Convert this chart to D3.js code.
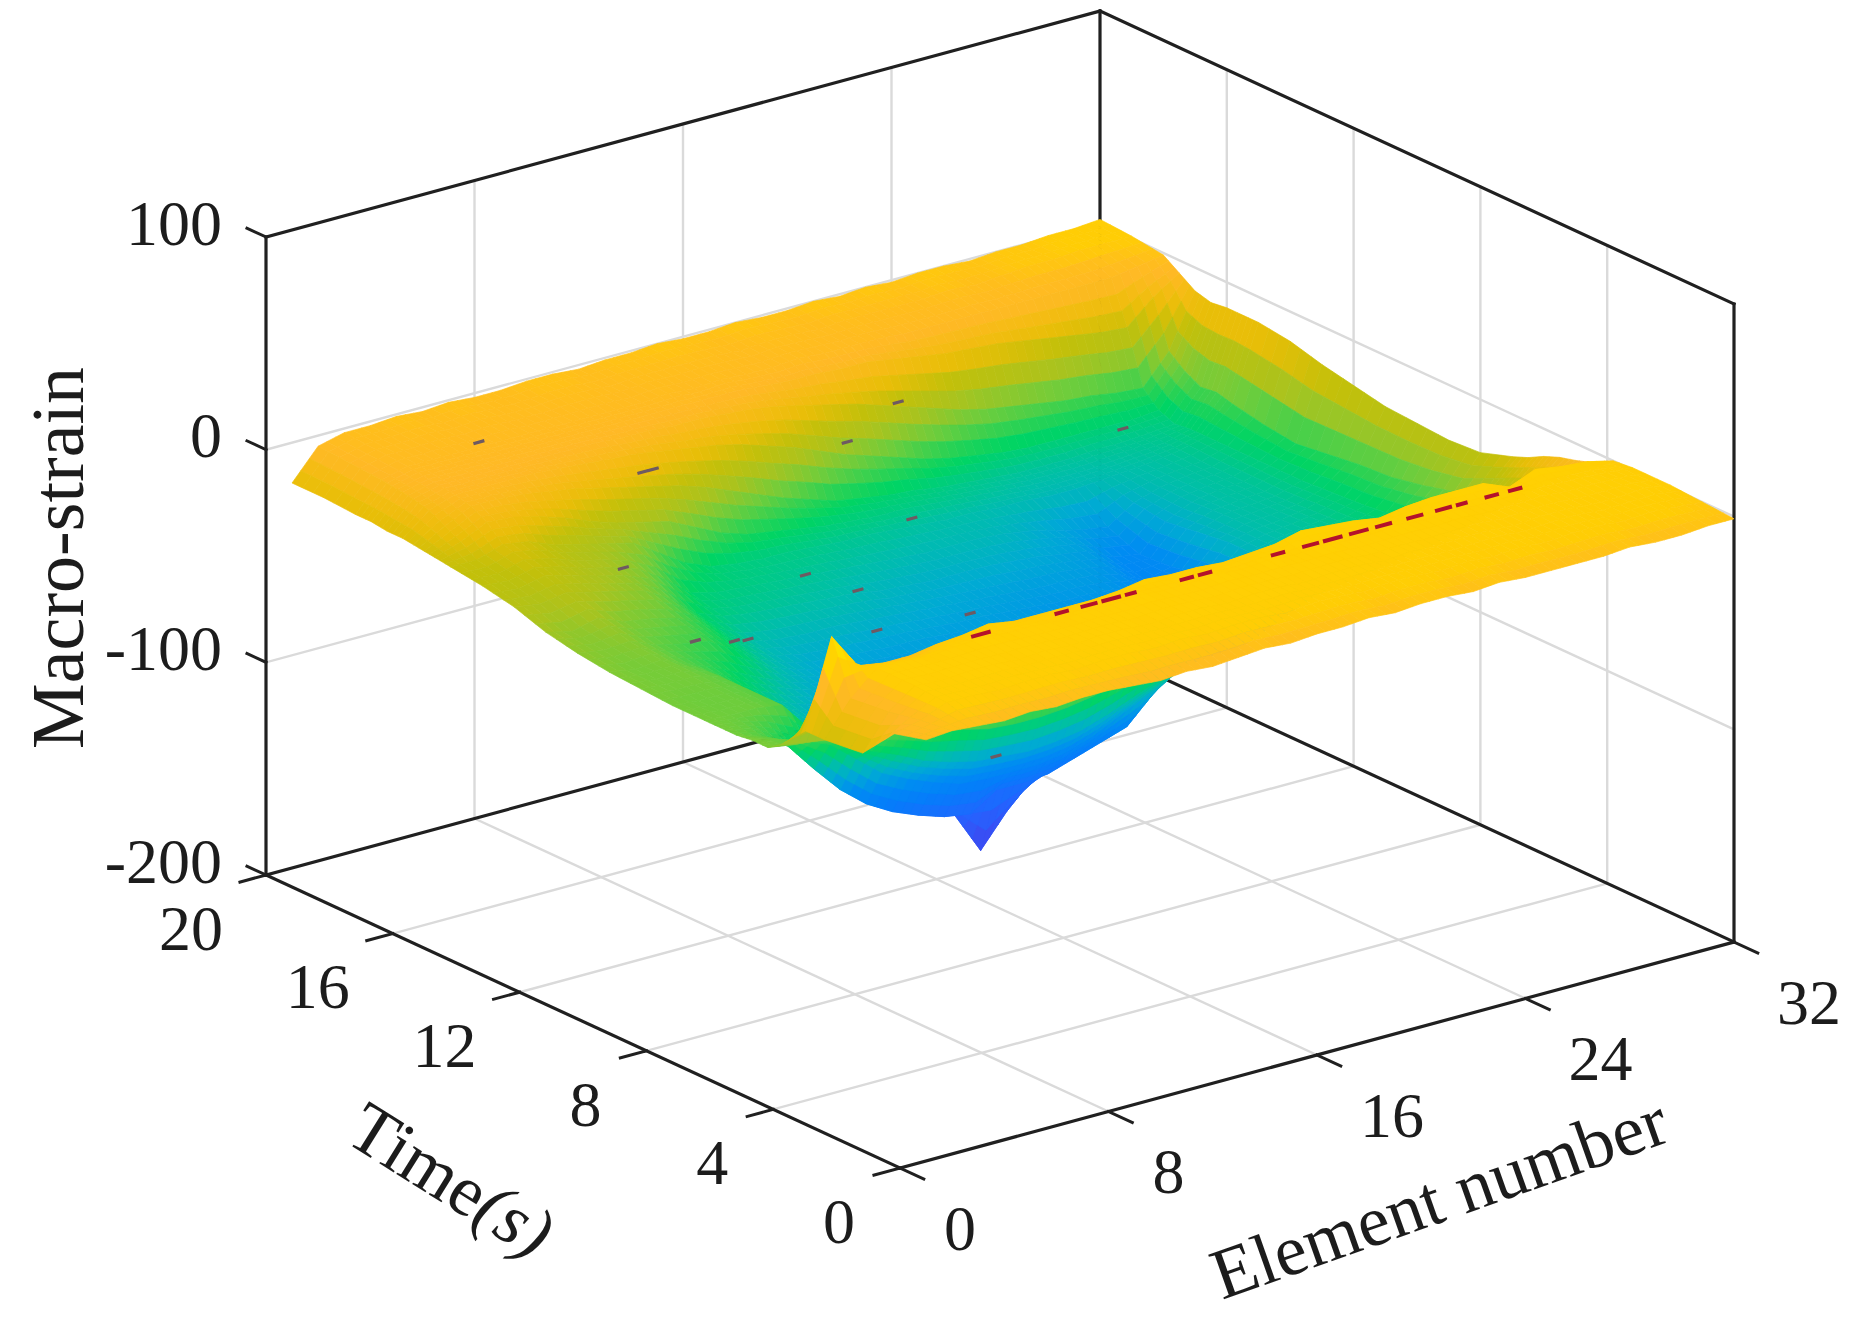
<!DOCTYPE html>
<html>
<head>
<meta charset="utf-8">
<script src="https://d3js.org/d3.v7.min.js"></script>
<style>
    body { margin: 0; background: #fff; }
    svg { display: block; filter: blur(0.6px); }
    text { font-family: "Liberation Serif", serif; fill: #1c1c1c; }
</style>
</head>
<body>
<script>
var elementCols = d3.range(1, 33);
var timeRows = [20, 19, 18, 17.5, 17, 16.5, 16, 15.5, 15, 14, 13, 12, 11, 10, 9, 8, 7, 6.5, 6, 5.5, 5, 4.6, 4.2, 3.8, 3.2, 2, 1, 0];

// one row per entry of timeRows, one value per element
var strain = [
    [-19,-5,-2,-2,-1,-2,-1,-2,-2,-1,-1,-2,-1,-1,0,-1,-1,0,-1,-1,0,-1,0,-1,0,0,-1,0,0,1,1,2],
    [-19,-6,-3,-3,-2,-3,-2,-3,-3,-2,-2,-3,-2,-2,-2,-2,-3,-2,-2,-3,-2,-2,-2,-2,-1,-2,-1,0,0,1,1,1],
    [-20,-7,-4,-4,-4,-4,-4,-4,-4,-4,-4,-4,-3,-4,-3,-4,-4,-3,-4,-4,-4,-5,-5,-5,-5,-5,-5,-5,-5,-5,-3,-1],
    [-20,-8,-5,-5,-5,-5,-5,-5,-5,-5,-5,-5,-5,-5,-5,-6,-7,-7,-8,-8,-10,-12,-14,-15,-16,-18,-20,-22,-24,-25,-14,-6],
    [-21,-9,-6,-6,-6,-6,-6,-6,-6,-7,-7,-8,-8,-9,-10,-12,-15,-18,-21,-25,-29,-33,-37,-40,-42,-44,-46,-47,-49,-50,-36,-11],
    [-21,-11,-7,-7,-7,-7,-8,-9,-10,-11,-13,-15,-17,-20,-24,-28,-33,-38,-42,-46,-50,-53,-55,-57,-58,-58,-58,-58,-58,-57,-42,-13],
    [-22,-15,-9,-9,-10,-12,-14,-17,-20,-23,-26,-30,-35,-40,-45,-49,-53,-55,-57,-58,-60,-61,-62,-63,-63,-63,-62,-62,-61,-60,-46,-12],
    [-23,-19,-13,-14,-17,-21,-26,-30,-33,-36,-42,-48,-52,-54,-56,-58,-59,-60,-60,-61,-62,-63,-64,-65,-65,-65,-64,-63,-62,-59,-45,-12],
    [-24,-24,-20,-22,-27,-30,-33,-36,-44,-52,-57,-59,-60,-60,-61,-62,-62,-63,-64,-65,-65,-66,-66,-67,-67,-66,-65,-64,-62,-59,-47,-12],
    [-26,-27,-24,-27,-31,-34,-38,-46,-56,-59,-60,-61,-62,-63,-64,-65,-66,-67,-67,-67,-68,-70,-73,-76,-78,-70,-66,-64,-63,-59,-50,-14],
    [-29,-31,-29,-32,-35,-38,-45,-55,-60,-62,-63,-64,-65,-66,-68,-69,-70,-70,-70,-71,-72,-74,-76,-82,-84,-72,-66,-64,-63,-59,-52,-18],
    [-34,-37,-34,-39,-41,-44,-50,-59,-65,-67,-68,-68,-69,-70,-71,-72,-73,-74,-75,-76,-76,-77,-80,-86,-83,-70,-65,-64,-63,-59,-50,-21],
    [-37,-39,-38,-43,-46,-48,-55,-63,-68,-71,-72,-73,-74,-74,-75,-76,-76,-77,-78,-79,-79,-80,-83,-86,-80,-68,-65,-64,-62,-58,-48,-24],
    [-39,-41,-40,-45,-50,-56,-62,-67,-71,-74,-76,-77,-78,-78,-79,-79,-80,-81,-82,-83,-84,-85,-86,-85,-78,-68,-65,-63,-61,-57,-47,-25],
    [-40,-41,-41,-44,-54,-62,-67,-71,-74,-77,-79,-80,-81,-82,-83,-83,-84,-85,-85,-86,-86,-86,-86,-84,-77,-68,-64,-62,-60,-55,-44,-26],
    [-41,-42,-42,-44,-56,-65,-71,-75,-80,-84,-86,-87,-87,-87,-88,-88,-88,-88,-88,-88,-87,-86,-85,-80,-72,-65,-60,-57,-54,-50,-40,-25],
    [-41,-42,-42,-44,-58,-68,-78,-85,-92,-97,-102,-100,-97,-95,-92,-88,-84,-80,-76,-73,-70,-68,-65,-62,-58,-54,-50,-46,-42,-38,-32,-20],
    [-41,-43,-48,-56,-68,-80,-88,-97,-104,-112,-132,-117,-105,-96,-90,-84,-76,-70,-65,-61,-58,-56,-54,-52,-49,-46,-44,-42,-38,-33,-28,-17],
    [-41,-45,-53,-67,-80,-90,-97,-102,-106,-108,-100,-100,-99,-95,-91,-87,-75,-66,-60,-55,-52,-50,-48,-46,-44,-42,-40,-38,-34,-30,-25,-13],
    [-40,-43,-47,-52,-62,-72,-78,-83,-87,-88,-88,-88,-86,-82,-76,-70,-64,-58,-54,-50,-47,-45,-43,-41,-39,-37,-35,-32,-28,-25,-20,-10],
    [-40,-42,-43,-47,-55,-60,-66,-70,-73,-74,-75,-74,-72,-68,-63,-58,-54,-50,-46,-42,-39,-37,-35,-33,-31,-29,-27,-24,-21,-18,-14,-8],
    [-36,-38,-40,-42,-44,-47,-50,-52,-55,-56,-56,-55,-53,-50,-46,-42,-38,-34,-31,-28,-26,-24,-22,-20,-18,-16,-14,-12,-10,-9,-8,-6],
    [-30,-20,-8,-10,-10,-12,-12,-11,-12,-13,-14,-14,-14,-13,-13,-13,-13,-13,-12,-10,-10,-10,-11,-10,-9,-8,-8,-8,-6,-5,-5,-5],
    [-24,17,0,-2,-2,0,1,3,1,1,1,1,2,4,3,3,2,3,4,7,6,5,3,5,6,6,6,1,6,4,3,0],
    [-24,-8,3,3,2,3,4,3,3,2,3,3,4,3,3,4,3,4,3,4,3,3,4,3,4,3,3,4,3,3,2,1],
    [-22,-6,3,2,3,3,2,3,2,3,3,2,3,3,2,3,3,2,3,3,2,3,2,3,3,2,3,3,2,2,3,1],
    [-6,-3,2,2,1,2,2,1,2,2,1,2,1,2,2,1,2,2,1,2,2,1,2,1,2,1,2,2,1,2,1,0],
    [-2,-1,-2,-3,-2,-3,-2,-2,-3,-4,-3,-4,-3,-2,-3,-2,-2,-1,-2,-1,-1,-2,-1,-2,-2,-2,-2,-1,-2,-2,-1,-1]
];

// small outliers in the surface [element, time, strain]
var specks = [[6.1,18.3,-5],[8.5,15.1,-5],[8.9,15.1,-5],[17.8,16.3,-30],[20,16.5,-20],[6.9,14.4,-40],[6.5,11.8,-55],[8,11.8,-60],[8.4,11.7,-60],[13.4,14,-62],[14.2,13,-65],[13.1,11.5,-70],[18.7,15,-60],[16.8,11.6,-75],[28.5,16.4,-60],[9.4,4.7,-70]];

// red dashes near the top edge of the front strip [from element, to element]
var redDashes = [[7,7.6],[10.2,10.6],[11.2,11.7],[12,12.6],[12.9,13.2],[15,15.4],[15.7,16.1],[18.5,18.9],[19.7,20.2],[20.5,21.1],[21.5,22.1],[22.5,23],[23.7,24.2],[24.8,25.3],[25.6,25.9],[26.7,27.1],[27.6,28]];

var elementTicks = [0, 8, 16, 24, 32];
var timeTicks = [0, 4, 8, 12, 16, 20];
var strainTicks = [-200, -100, 0, 100];

var colorValues = [-200, -150, -130, -110, -92, -82, -72, -65, -60, -55, -50, -42, -33, -25, -18, -12, -6, -2, 1, 8, 17];
var colorList = ["#320f82", "#4b2dd2", "#4146f0", "#2364ff", "#057dfa", "#008cf2", "#00aad4", "#00beaa", "#00cb82", "#00d464", "#28d255", "#6ecd3c", "#aac31e", "#c3c00a", "#e8be08", "#f5bc14", "#ffb926", "#ffbe1c", "#ffcd05", "#ffd400", "#faf500"];

var width = 1849,
    height = 1323,
    originX = 900,
    originY = 1168,
    subdiv = 3;

var eX = d3.scaleLinear().domain([0, 32]).range([0, 834]),
    eY = d3.scaleLinear().domain([0, 32]).range([0, -226]),
    tX = d3.scaleLinear().domain([0, 20]).range([0, -634]),
    tY = d3.scaleLinear().domain([0, 20]).range([0, -293]),
    zY = d3.scaleLinear().domain([-200, 100]).range([0, -638]),
    color = d3.scaleLinear().domain(colorValues).range(colorList).clamp(true);

function project(e, t, z) {
    return [originX + eX(e) + tX(t), originY + eY(e) + tY(t) + zY(z)];
}

var svg = d3.select("body").append("svg")
    .attr("width", width)
    .attr("height", height);

function drawLines(cls, lines, stroke, strokeWidth) {
    svg.append("g").selectAll("line." + cls)
        .data(lines)
      .enter().append("line")
        .attr("class", cls)
        .attr("x1", function(d) { return d[0][0]; })
        .attr("y1", function(d) { return d[0][1]; })
        .attr("x2", function(d) { return d[1][0]; })
        .attr("y2", function(d) { return d[1][1]; })
        .style("stroke", stroke)
        .style("stroke-width", strokeWidth)
        .style("stroke-linecap", "square");
}

// grid on the floor and both back walls
var grid = [];
elementTicks.slice(1, -1).forEach(function(e) {
    grid.push([project(e, 0, -200), project(e, 20, -200)]);
    grid.push([project(e, 20, -200), project(e, 20, 100)]);
});
timeTicks.slice(1, -1).forEach(function(t) {
    grid.push([project(0, t, -200), project(32, t, -200)]);
    grid.push([project(32, t, -200), project(32, t, 100)]);
});
strainTicks.slice(1, -1).forEach(function(z) {
    grid.push([project(0, 20, z), project(32, 20, z)]);
    grid.push([project(32, 20, z), project(32, 0, z)]);
});
drawLines("grid", grid, "#dadada", 2.4);

// box
var box = [
    [project(0, 20, -200), project(0, 20, 100)],
    [project(0, 20, 100), project(32, 20, 100)],
    [project(32, 20, 100), project(32, 0, 100)],
    [project(32, 0, 100), project(32, 0, -200)],
    [project(32, 20, 100), project(32, 20, -200)],
    [project(0, 20, -200), project(32, 20, -200)],
    [project(32, 20, -200), project(32, 0, -200)],
    [project(0, 20, -200), project(0, 0, -200)],
    [project(0, 0, -200), project(32, 0, -200)]
];
drawLines("box", box, "#202020", 3.2);

var ticks = [];
elementTicks.forEach(function(e) { ticks.push([project(e, 0, -200), project(e, -0.75, -200)]); });
timeTicks.forEach(function(t) { ticks.push([project(0, t, -200), project(-1, t, -200)]); });
strainTicks.forEach(function(z) { ticks.push([project(0, 20, z), project(0, 20.6, z)]); });
drawLines("tick", ticks, "#202020", 3);

// surface, far cells first, each cell split up for interpolated shading
var cells = [];
for (var r = 0; r < timeRows.length - 1; r++) {
    for (var c = elementCols.length - 2; c >= 0; c--) {
        for (var a = 0; a < subdiv; a++) {
            for (var b = subdiv - 1; b >= 0; b--) {
                cells.push({r: r, c: c, a: a, b: b});
            }
        }
    }
}

function surfacePoint(r, c, u, v) {
    var z = (1 - u) * ((1 - v) * strain[r][c] + v * strain[r][c + 1])
          + u * ((1 - v) * strain[r + 1][c] + v * strain[r + 1][c + 1]);
    var t = timeRows[r] + u * (timeRows[r + 1] - timeRows[r]);
    var e = elementCols[c] + v * (elementCols[c + 1] - elementCols[c]);
    return {e: e, t: t, z: z};
}

function cellZ(d) {
    return surfacePoint(d.r, d.c, (d.a + 0.5) / subdiv, (d.b + 0.5) / subdiv).z;
}

svg.append("g").selectAll("polygon")
    .data(cells)
  .enter().append("polygon")
    .attr("points", function(d) {
        return [[d.a, d.b], [d.a + 1, d.b], [d.a + 1, d.b + 1], [d.a, d.b + 1]].map(function(k) {
            var p = surfacePoint(d.r, d.c, k[0] / subdiv, k[1] / subdiv);
            return project(p.e, p.t, p.z).join(",");
        }).join(" ");
    })
    .style("fill", function(d) { return color(cellZ(d)); })
    .style("stroke", function(d) { return color(cellZ(d)); })
    .style("stroke-width", 0.7);

drawLines("speck", specks.map(function(d) {
    return [project(d[0] - 0.15, d[1], d[2]), project(d[0] + 0.15, d[1], d[2])];
}), "#6e5a62", 3.2);

drawLines("dash", redDashes.map(function(d) {
    return [project(d[0], 3.45, 3), project(d[1], 3.45, 3)];
}), "#b3122c", 4);

// tick labels
var labels = [];
strainTicks.forEach(function(z) {
    var p = project(0, 20, z);
    labels.push({text: z, x: p[0] - 44, y: p[1] - 14, anchor: "end"});
});
timeTicks.forEach(function(t) {
    var p = project(0, t, -200);
    labels.push({text: t, x: p[0] + (t >= 10 ? -75 : -61), y: p[1] + 53, anchor: "middle"});
});
elementTicks.forEach(function(e) {
    var p = project(e, 0, -200);
    labels.push({text: e, x: p[0] + (e >= 10 ? 75 : 60), y: p[1] + 60, anchor: "middle"});
});

svg.append("g").selectAll("text")
    .data(labels)
  .enter().append("text")
    .attr("x", function(d) { return d.x; })
    .attr("y", function(d) { return d.y; })
    .attr("dy", "0.34em")
    .attr("text-anchor", function(d) { return d.anchor; })
    .style("font-size", "64px")
    .text(function(d) { return d.text; });

// axis titles
svg.append("text")
    .attr("transform", "translate(61,558) rotate(-90)")
    .attr("dy", "0.3em")
    .attr("text-anchor", "middle")
    .style("font-size", "74px")
    .text("Macro-strain");

var timeTitle = svg.append("text")
    .attr("transform", "translate(450,1182) rotate(32)")
    .attr("dy", "0.3em")
    .attr("text-anchor", "middle")
    .style("font-size", "72px")
    .text("Time");
timeTitle.append("tspan").style("font-style", "italic").text("(s)");

svg.append("text")
    .attr("transform", "translate(1440,1200) rotate(-19.5)")
    .attr("dy", "0.3em")
    .attr("text-anchor", "middle")
    .style("font-size", "72px")
    .text("Element number");
</script>
</body>
</html>
